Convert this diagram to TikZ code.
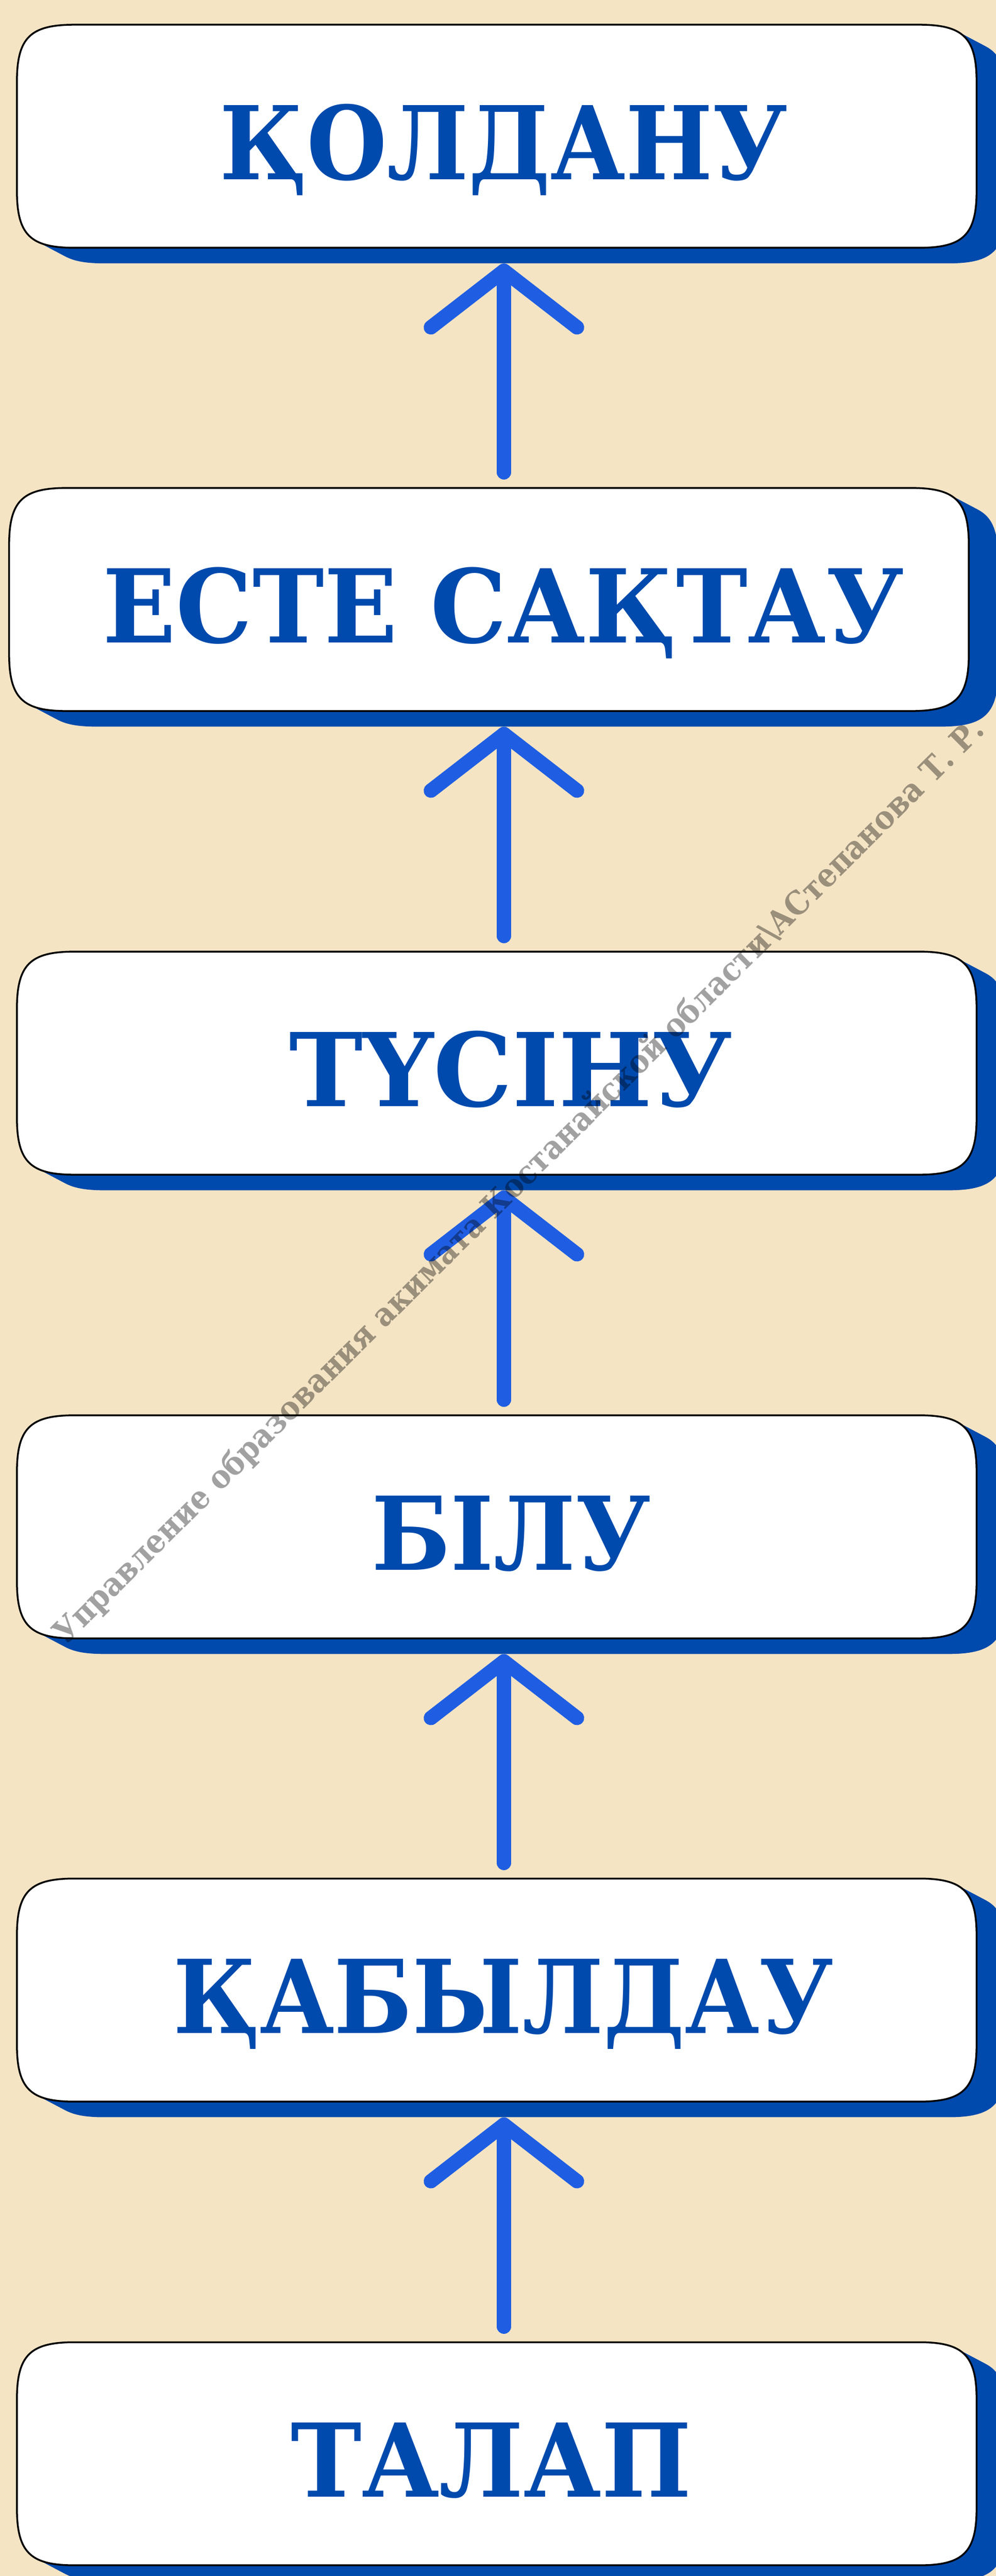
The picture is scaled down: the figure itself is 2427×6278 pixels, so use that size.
\documentclass[tikz,border=0pt]{standalone}
\usepackage{fontspec}
\setmainfont{DejaVu Serif}
\usetikzlibrary{calc}
\definecolor{bgc}{RGB}{244,228,196}
\definecolor{navy}{RGB}{0,74,173}
\definecolor{arrowblue}{RGB}{31,94,226}
\newcommand\boxR{140}
\newcommand\boxC{32}
% squircle-like rounded box through the anchors of node #1, offset by (#2,#3)
\newcommand\sqshape[3]{%
 ($(#1.north west)+(#2,#3)+(0,\boxR)$) .. controls ($(#1.north west)+(#2,#3)+(0,\boxC)$) and ($(#1.north west)+(#2,#3)+(\boxC,0)$) .. ($(#1.north west)+(#2,#3)+(\boxR,0)$)
 -- ($(#1.north east)+(#2,#3)+(-\boxR,0)$) .. controls ($(#1.north east)+(#2,#3)+(-\boxC,0)$) and ($(#1.north east)+(#2,#3)+(0,\boxC)$) .. ($(#1.north east)+(#2,#3)+(0,\boxR)$)
 -- ($(#1.south east)+(#2,#3)+(0,-\boxR)$) .. controls ($(#1.south east)+(#2,#3)+(0,-\boxC)$) and ($(#1.south east)+(#2,#3)+(-\boxC,0)$) .. ($(#1.south east)+(#2,#3)+(-\boxR,0)$)
 -- ($(#1.south west)+(#2,#3)+(\boxR,0)$) .. controls ($(#1.south west)+(#2,#3)+(\boxC,0)$) and ($(#1.south west)+(#2,#3)+(0,-\boxC)$) .. ($(#1.south west)+(#2,#3)+(0,-\boxR)$)
 -- cycle}
% label set in the given width, natural height
\newcommand\fitw[2]{\resizebox{#1}{\height}{#2}}
\tikzset{
 boxnode/.style={rectangle, inner sep=0pt, minimum width=584.25pt, minimum height=135.5pt},
 lbl/.style={font=\bfseries\fontsize{62}{70}\selectfont, text=navy, inner sep=0pt, anchor=base},
 wm/.style={font=\bfseries\fontsize{19.6}{22}\selectfont, text=black, text opacity=0.37, inner sep=0pt, anchor=base},
 arr/.style={draw=arrowblue, line width=8.75pt, line cap=round, line join=round},
 boxline/.style={draw=black, line width=1.1pt, fill=white},
}
\begin{document}
\begin{tikzpicture}[x=0.25pt, y=-0.25pt]
\fill[bgc] (0,0) rectangle (2427,6278);
\useasboundingbox (0,0) rectangle (2427,6278);
\coordinate (axis) at (1228,0);
% box frames
\node[boxnode] (b1) at (1210.5,332) {};
\node[boxnode] (b2) at (1191.5,1461) {};
\node[boxnode] (b3) at (1210.5,2591) {};
\node[boxnode] (b4) at (1210.5,3721) {};
\node[boxnode] (b5) at (1210.5,4850) {};
\node[boxnode] (b6) at (1210.5,5980) {};
% extruded shadows
\foreach \b in {b1,b2,b3,b4,b5,b6}{
  \foreach \t in {0,0.05,...,1.01}{
    \fill[navy] \sqshape{\b}{72*\t}{38*\t};
  }
}
% boxes
\foreach \b in {b1,b2,b3,b4,b5,b6}{
  \path[boxline] \sqshape{\b}{0}{0};
}
% labels
\node[lbl] (t1) at ($(b1.center -| 1227,0)+(0,105)$) {\fitw{346pt}{ҚОЛДАНУ}};
\node[lbl] (t2) at ($(b2.center -| 1227,0)+(0,105)$) {\fitw{488pt}{ЕСТЕ САҚТАУ}};
\node[lbl] (t3) at ($(b3.center -| 1245,0)+(0,105)$) {\fitw{270pt}{ТҮСІНУ}};
\node[lbl] (t4) at ($(b4.center -| 1246,0)+(0,105)$) {\fitw{170pt}{БІЛУ}};
\node[lbl] (t5) at ($(b5.center -| 1227,0)+(0,105)$) {\fitw{402.5pt}{ҚАБЫЛДАУ}};
\node[lbl] (t6) at ($(b6.center -| 1197,0)+(0,105)$) {\fitw{244pt}{ТАЛАП}};
% arrows
\foreach \lo/\up in {b2/b1,b3/b2,b4/b3,b5/b4,b6/b5}{
  \draw[arr] ($(\lo.north -| axis)+(0,-38)$) -- ($(\up.south -| axis)+(0,56)$) coordinate (apex);
  \draw[arr] ($(apex)+(-178,138)$) -- (apex) -- ($(apex)+(178,138)$);
}
% watermark
\node[wm, rotate=44.8] (wmark) at (1282,2897) {\fitw{790pt}{Управление образования акимата Костанайской области\textbackslash АСтепанова Т. Р.}};
\end{tikzpicture}
\end{document}
